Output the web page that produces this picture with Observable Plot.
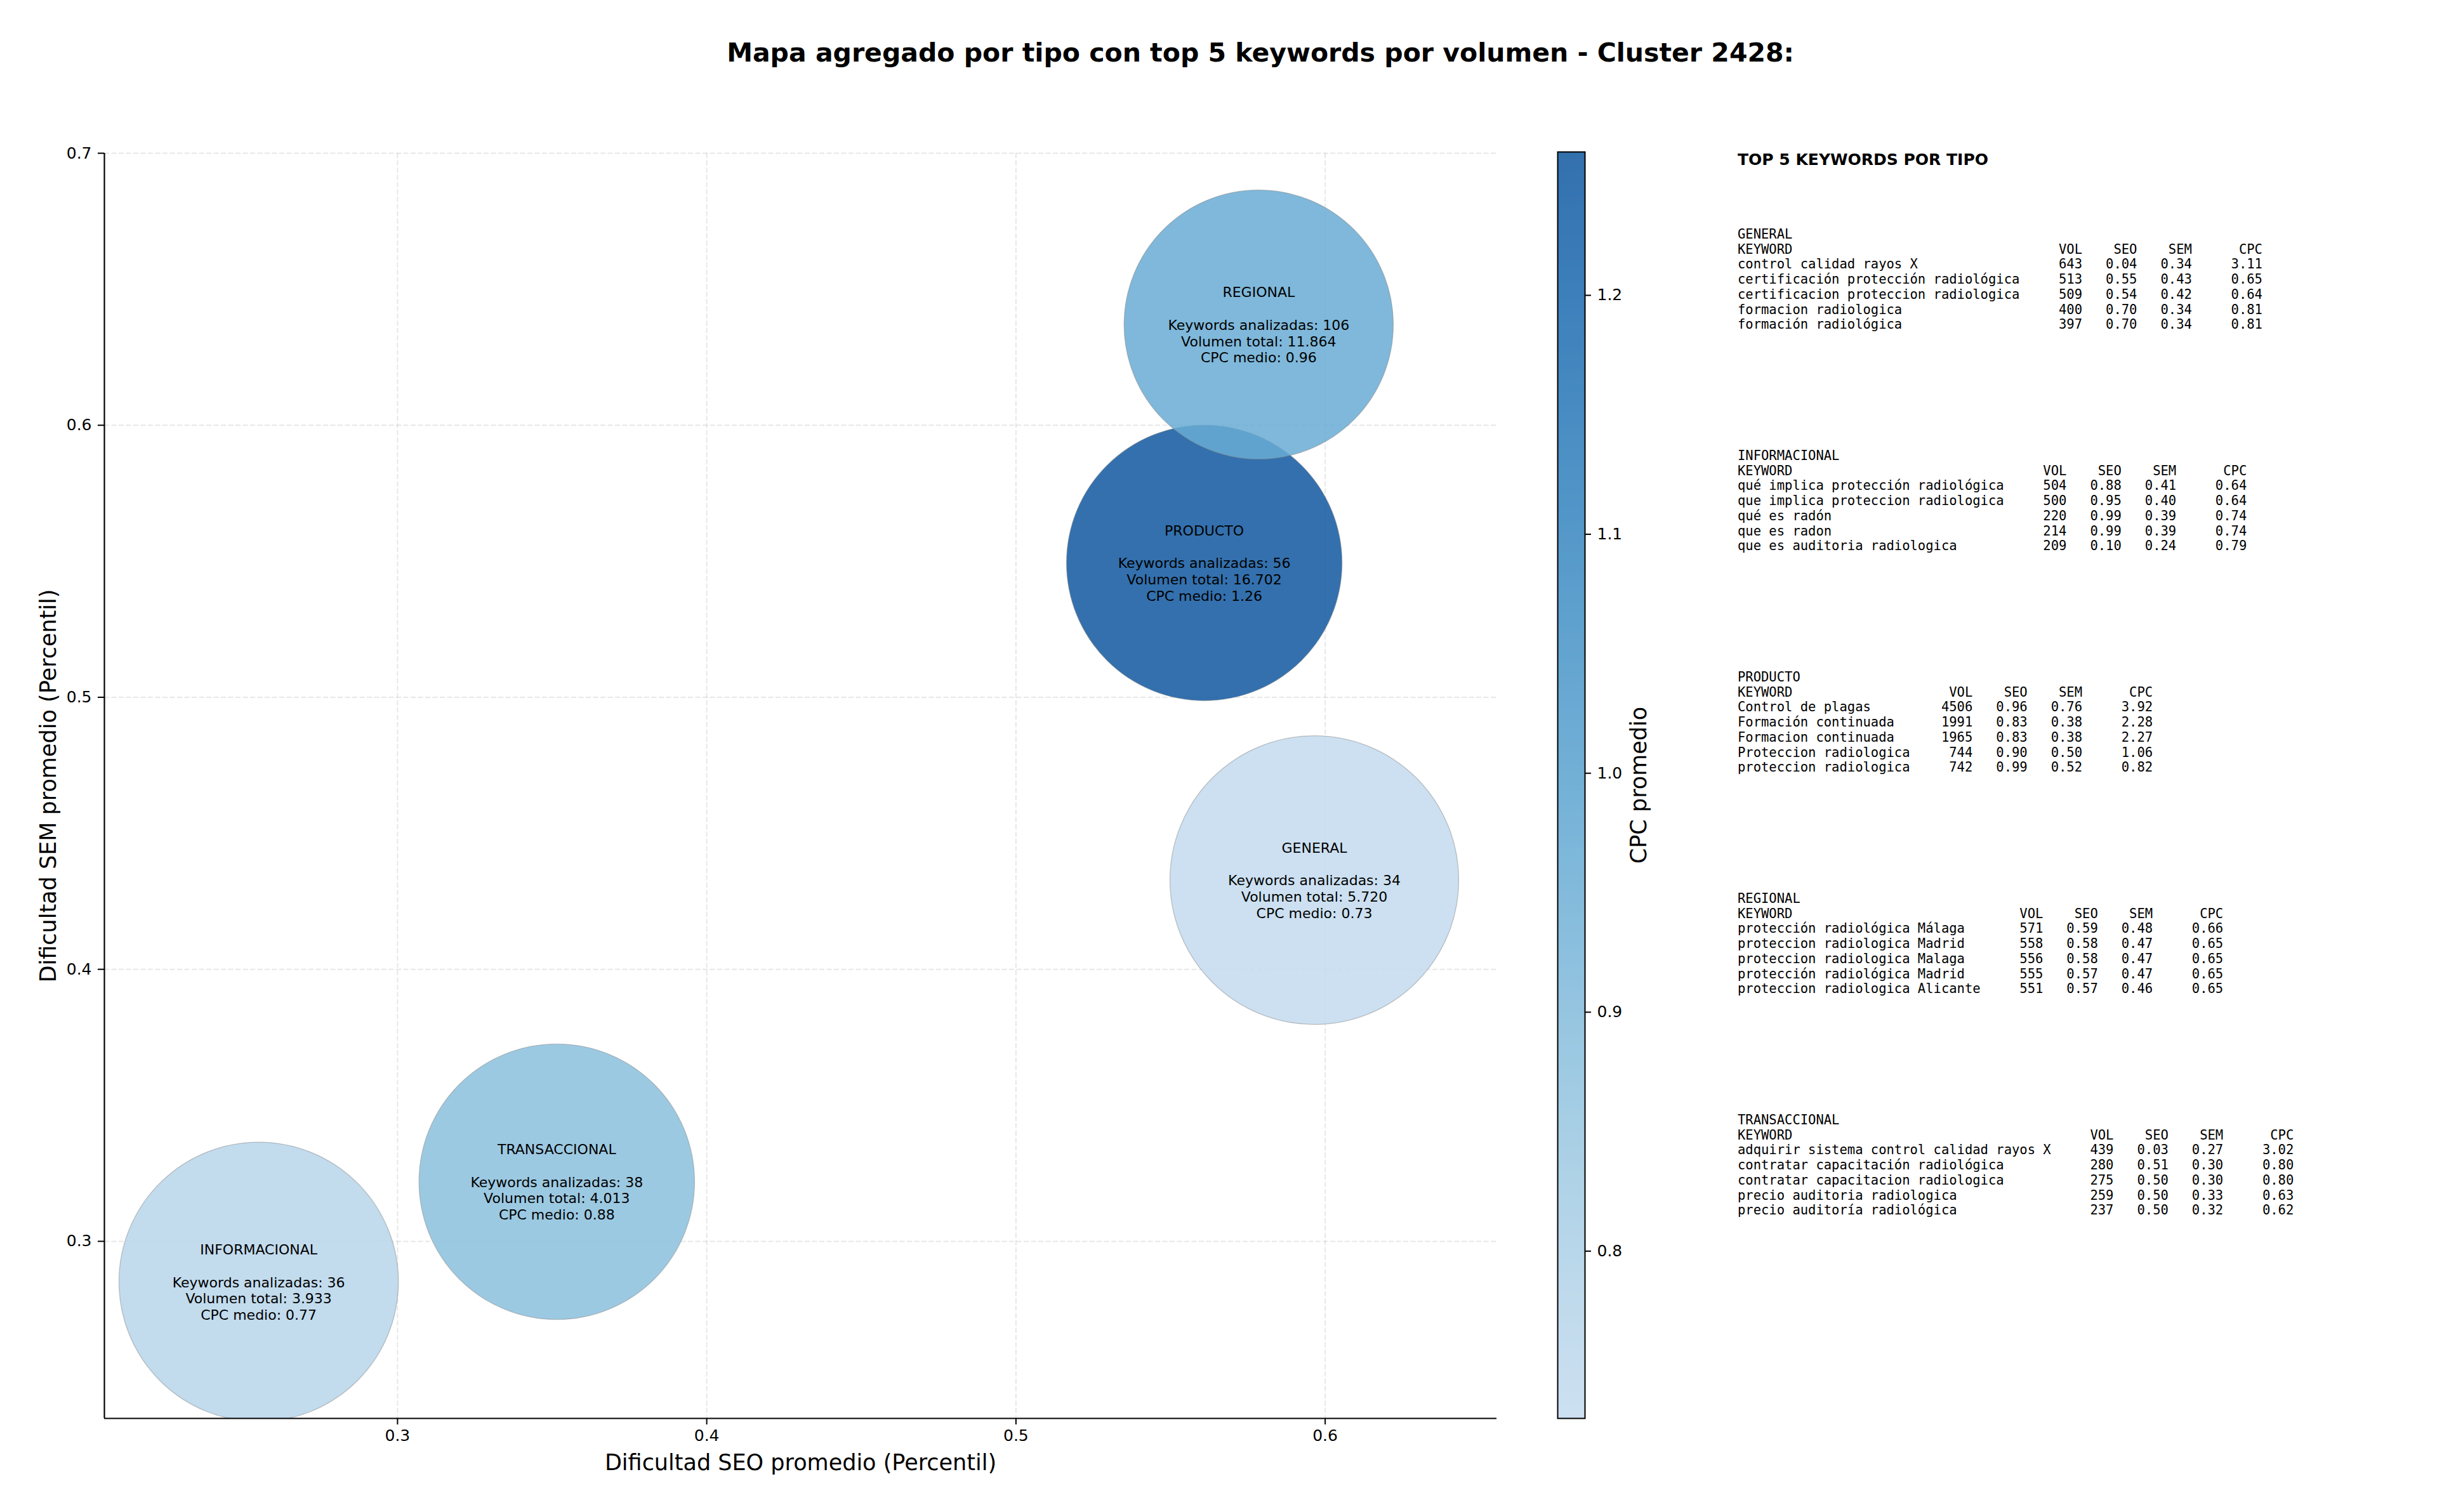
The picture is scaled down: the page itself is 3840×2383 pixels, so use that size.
<!DOCTYPE html>
<html><head><meta charset="utf-8">
<script src="https://cdn.jsdelivr.net/npm/d3@7"></script>
<script src="https://cdn.jsdelivr.net/npm/@observablehq/plot@0.6"></script>
<style>
html,body{margin:0;padding:0;background:#fff;}
#root{position:relative;width:3840px;height:2383px;overflow:hidden;background:#fff;font-family:"DejaVu Sans",sans-serif;}
.abs{position:absolute;top:0;}
</style></head><body><div id="root"></div>
<script>
// ---- aggregated data per type ----
const types = ["GENERAL","INFORMACIONAL","PRODUCTO","REGIONAL","TRANSACCIONAL"];
const seoAvg = [0.5965,0.2551,0.5609,0.5785,0.3515];
const semAvg = [0.4328,0.2851,0.5494,0.6370,0.3219];
const cpcAvg = [0.73,0.77,1.26,0.96,0.88];
const keywordCount = [34,36,56,106,38];
const totalVolume = [5720,3933,16702,11864,4013];
const bubbleArea = [26800,25100,24400,23300,24400];

// ---- ticks ----
const xTicks = [0.3,0.4,0.5,0.6];
const yTicks = [0.3,0.4,0.5,0.6,0.7];
const cbTicks = [0.8,0.9,1.0,1.1,1.2];
const xDomain = [0.2052,0.6555];
const yDomain = [0.2349,0.7];

// ---- top 5 keywords per type: [keyword, vol, seo, sem, cpc] ----
const topGeneral = [
  ["control calidad rayos X",643,0.04,0.34,3.11],
  ["certificación protección radiológica",513,0.55,0.43,0.65],
  ["certificacion proteccion radiologica",509,0.54,0.42,0.64],
  ["formacion radiologica",400,0.70,0.34,0.81],
  ["formación radiológica",397,0.70,0.34,0.81]];
const topInformacional = [
  ["qué implica protección radiológica",504,0.88,0.41,0.64],
  ["que implica proteccion radiologica",500,0.95,0.40,0.64],
  ["qué es radón",220,0.99,0.39,0.74],
  ["que es radon",214,0.99,0.39,0.74],
  ["que es auditoria radiologica",209,0.10,0.24,0.79]];
const topProducto = [
  ["Control de plagas",4506,0.96,0.76,3.92],
  ["Formación continuada",1991,0.83,0.38,2.28],
  ["Formacion continuada",1965,0.83,0.38,2.27],
  ["Proteccion radiologica",744,0.90,0.50,1.06],
  ["proteccion radiologica",742,0.99,0.52,0.82]];
const topRegional = [
  ["protección radiológica Málaga",571,0.59,0.48,0.66],
  ["proteccion radiologica Madrid",558,0.58,0.47,0.65],
  ["proteccion radiologica Malaga",556,0.58,0.47,0.65],
  ["protección radiológica Madrid",555,0.57,0.47,0.65],
  ["proteccion radiologica Alicante",551,0.57,0.46,0.65]];
const topTransaccional = [
  ["adquirir sistema control calidad rayos X",439,0.03,0.27,3.02],
  ["contratar capacitación radiológica",280,0.51,0.30,0.80],
  ["contratar capacitacion radiologica",275,0.50,0.30,0.80],
  ["precio auditoria radiologica",259,0.50,0.33,0.63],
  ["precio auditoría radiológica",237,0.50,0.32,0.62]];
const topBlocks = [topGeneral, topInformacional, topProducto, topRegional, topTransaccional];

const titleText = "Mapa agregado por tipo con top 5 keywords por volumen - Cluster 2428:";
const xLabel = "Dificultad SEO promedio (Percentil)";
const yLabel = "Dificultad SEM promedio (Percentil)";
const cbLabel = "CPC promedio";

// ---- build ----
const fmtVol = v => d3.format(",")(v).replace(/,/g, ".");
const bubbles = types.map((t, i) => ({
  type: t, seo: seoAvg[i], sem: semAvg[i], cpc: cpcAvg[i],
  kw: keywordCount[i], vol: totalVolume[i], area: bubbleArea[i]
}));

const colorOpts = {type: "linear", domain: [d3.min(cpcAvg), d3.max(cpcAvg)],
  interpolate: t => d3.interpolateBlues(0.25 + 0.6 * t)};

const root = document.getElementById("root");
const FONT = "DejaVu Sans";

const gridStyle = {stroke: "#b0b0b0", strokeOpacity: 0.3, strokeWidth: 2, strokeDasharray: "8,3.5"};

const main = Plot.plot({
  width: 2420, height: 2383,
  marginLeft: 164, marginRight: 62, marginTop: 241, marginBottom: 148,
  style: {fontFamily: FONT, fontSize: "25px", background: "transparent", color: "black"},
  x: {domain: xDomain},
  y: {domain: yDomain},
  r: {type: "sqrt", domain: [0, d3.max(bubbleArea)], range: [0, 227.5]},
  color: colorOpts,
  marks: [
    Plot.gridX(xTicks, gridStyle),
    Plot.gridY(yTicks, gridStyle),
    Plot.dot(bubbles, {x: "seo", y: "sem", r: "area", fill: "cpc", fillOpacity: 0.85,
      stroke: "#808080", strokeOpacity: 0.45, strokeWidth: 1.3, sort: null, clip: true}),
    Plot.text(bubbles, {x: "seo", y: "sem",
      text: d => `${d.type}\n\nKeywords analizadas: ${d.kw}\nVolumen total: ${fmtVol(d.vol)}\nCPC medio: ${d.cpc.toFixed(2)}`,
      fontSize: 22, lineHeight: 1.17, lineAnchor: "middle", textAnchor: "middle", fill: "black"}),
    Plot.ruleX([xDomain[0]], {stroke: "black", strokeWidth: 2.2}),
    Plot.ruleY([yDomain[0]], {stroke: "black", strokeWidth: 2.2}),
    Plot.axisX(xTicks, {tickSize: 10, tickPadding: 8, strokeWidth: 2, tickFormat: d => d.toFixed(1), label: null, fontSize: 25}),
    Plot.axisY(yTicks, {tickSize: 10, tickPadding: 10, strokeWidth: 2, tickFormat: d => d.toFixed(1), label: null, fontSize: 25}),
    Plot.text([xLabel], {frameAnchor: "bottom", dy: 70, text: d => d, lineAnchor: "middle", textAnchor: "middle", fontSize: 35}),
    Plot.text([yLabel], {frameAnchor: "left", dx: -88, rotate: -90, text: d => d, lineAnchor: "middle", textAnchor: "middle", fontSize: 35})
  ]
});
main.classList.add("abs");
main.style.left = "0px";
root.appendChild(main);

// colorbar
const [cLo, cHi] = colorOpts.domain;
const N = 200;
const cbSteps = d3.range(N).map(i => {
  const a = cLo + (cHi - cLo) * i / N, b = cLo + (cHi - cLo) * (i + 1) / N;
  return {y1: a, y2: b, v: (a + b) / 2};
});
const cb = Plot.plot({
  width: 380, height: 2383,
  marginLeft: 34, marginRight: 303, marginTop: 239, marginBottom: 148,
  style: {fontFamily: FONT, fontSize: "25px", background: "transparent", color: "black"},
  x: {domain: [0, 1], axis: null},
  y: {domain: colorOpts.domain},
  color: colorOpts,
  marks: [
    Plot.rect(cbSteps, {x1: 0, x2: 1, y1: "y1", y2: "y2", fill: "v", fillOpacity: 0.85, shapeRendering: "crispEdges"}),
    Plot.frame({stroke: "black", strokeWidth: 2}),
    Plot.axisY(cbTicks, {anchor: "right", tickSize: 9, tickPadding: 10, strokeWidth: 2, tickFormat: d => d.toFixed(1), label: null, fontSize: 25}),
    Plot.text([cbLabel], {frameAnchor: "right", dx: 85, rotate: -90, text: d => d, lineAnchor: "middle", textAnchor: "middle", fontSize: 35})
  ]
});
cb.classList.add("abs");
cb.style.left = "2420px";
root.appendChild(cb);

// title
const tsvg = d3.create("svg").attr("class", "abs").attr("width", 3840).attr("height", 150)
  .style("left", "0px").style("top", "0px");
tsvg.append("text").attr("x", 1986).attr("y", 97).attr("text-anchor", "middle")
  .attr("font-family", FONT).attr("font-weight", "bold").attr("font-size", 41).attr("fill", "black")
  .text(titleText);
root.appendChild(tsvg.node());

// keyword panel
function blockLines(name, rows) {
  const L = d3.max(rows, r => r[0].length);
  const out = [name,
    "KEYWORD".padEnd(L) + "  " + "VOL".padStart(6) + " " + "SEO".padStart(6) + " " + "SEM".padStart(6) + " " + "CPC".padStart(8)];
  rows.forEach(r => out.push(
    r[0].padEnd(L) + "  " + String(r[1]).padStart(6) + " " + r[2].toFixed(2).padStart(6) + " " +
    r[3].toFixed(2).padStart(6) + " " + r[4].toFixed(2).padStart(8)));
  return out;
}
const psvg = d3.create("svg").attr("class", "abs").attr("width", 1140).attr("height", 2383)
  .style("left", "2700px").style("top", "0px");
psvg.append("text").attr("x", 38).attr("y", 260).attr("font-family", FONT).attr("font-weight", "bold")
  .attr("font-size", 25).attr("fill", "black").text("TOP 5 KEYWORDS POR TIPO");
types.forEach((t, k) => {
  const lines = blockLines(t, topBlocks[k]);
  const b0 = 376 + 349 * k;
  lines.forEach((ln, j) => {
    psvg.append("text").attr("x", 38).attr("y", b0 + 23.7 * j)
      .attr("font-family", "DejaVu Sans Mono").attr("font-size", 20.5).attr("fill", "black")
      .style("white-space", "pre").attr("xml:space", "preserve").text(ln);
  });
});
root.appendChild(psvg.node());
</script></body></html>
